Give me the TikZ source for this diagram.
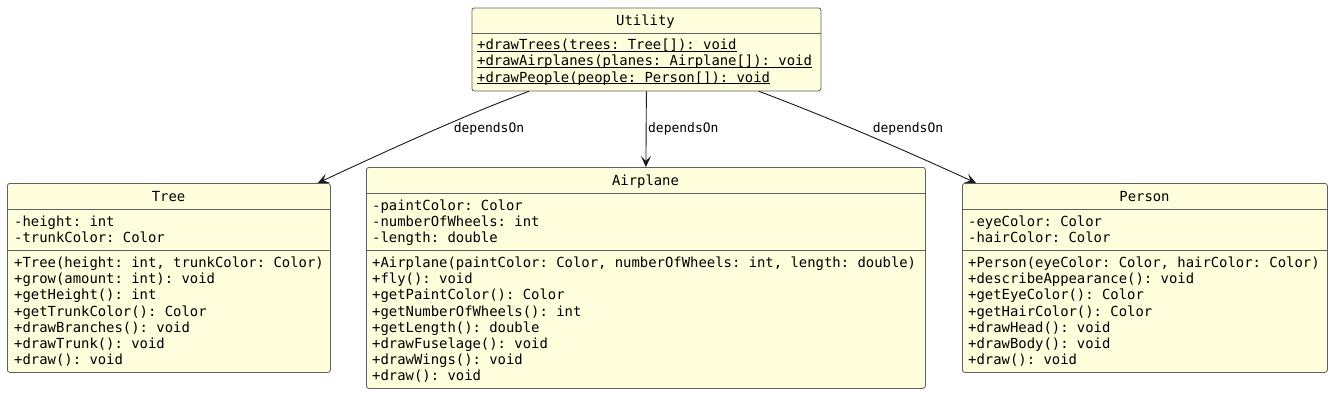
\documentclass[tikz,border=0pt]{standalone}
\usepackage{fontspec}
\setmonofont{DejaVu Sans Mono}
\usetikzlibrary{arrows.meta,calc}
\definecolor{classfill}{HTML}{FEFEDC}
\definecolor{classline}{HTML}{606060}
\tikzset{
  classbox/.style={draw=classline, fill=classfill, line width=0.8pt, rounded corners=2.5pt, inner sep=0pt, anchor=north west},
  sepline/.style={draw=classline, line width=0.8pt},
  mem/.style={font=\ttfamily\fontsize{13.9}{16}\selectfont, inner sep=0pt, anchor=base west},
  hdr/.style={font=\ttfamily\fontsize{13.9}{16}\selectfont, inner sep=0pt, anchor=base},
  lbl/.style={font=\ttfamily\fontsize{13}{15}\selectfont, inner sep=0pt},
  dep/.style={draw=black!90, line width=0.9pt, -{Stealth[length=11pt,width=10pt,inset=5pt]}},
  ul/.style={draw=black, line width=0.8pt},
}
\begin{document}
\begin{tikzpicture}[x=1pt,y=-1pt]
\fill[white] (0,0) rectangle (1341,402);
\useasboundingbox (0,0) rectangle (1341,402);

% Utility
\node[classbox, minimum width=349pt, minimum height=83pt] (util) at (471.5,7.5) {};
\node[hdr] (util-h) at (645.5,25.5) {Utility};
\draw[sepline] (util.west |- 0,33) -- (util.east |- 0,33);
\foreach \t [count=\i] in {{+drawTrees(trees: Tree[]): void},{+drawAirplanes(planes: Airplane[]): void},{+drawPeople(people: Person[]): void}}{
  \node[mem] (util-m\i) at (477,{49.7+16.2*(\i-1)}) {\t};
  \draw[ul] ([yshift=-1.6pt]util-m\i.base west) -- ([yshift=-1.6pt]util-m\i.base east);
}

% Tree
\node[classbox, minimum width=323pt, minimum height=189pt] (tree) at (7,183) {};
\node[hdr] (tree-h) at (168.5,201) {Tree};
\draw[sepline] (tree.west |- 0,209) -- (tree.east |- 0,209);
\draw[sepline] (tree.west |- 0,250) -- (tree.east |- 0,250);
\foreach \t [count=\i] in {{-height: int},{-trunkColor: Color}}
  \node[mem] (tree-a\i) at (14,{226.3+16.2*(\i-1)}) {\t};
\foreach \t [count=\i] in {{+Tree(height: int, trunkColor: Color)},{+grow(amount: int): void},{+getHeight(): int},{+getTrunkColor(): Color},{+drawBranches(): void},{+drawTrunk(): void},{+draw(): void}}
  \node[mem] (tree-m\i) at (14,{267.5+16.2*(\i-1)}) {\t};

% Airplane
\node[classbox, minimum width=559pt, minimum height=221pt] (air) at (366,167) {};
\node[hdr] (air-h) at (645.5,185) {Airplane};
\draw[sepline] (air.west |- 0,193) -- (air.east |- 0,193);
\draw[sepline] (air.west |- 0,250) -- (air.east |- 0,250);
\foreach \t [count=\i] in {{-paintColor: Color},{-numberOfWheels: int},{-length: double}}
  \node[mem] (air-a\i) at (372,{210.1+16.2*(\i-1)}) {\t};
\foreach \t [count=\i] in {{+Airplane(paintColor: Color, numberOfWheels: int, length: double)},{+fly(): void},{+getPaintColor(): Color},{+getNumberOfWheels(): int},{+getLength(): double},{+drawFuselage(): void},{+drawWings(): void},{+draw(): void}}
  \node[mem] (air-m\i) at (372,{267.5+16.2*(\i-1)}) {\t};

% Person
\node[classbox, minimum width=365pt, minimum height=189pt] (person) at (962,183) {};
\node[hdr] (person-h) at (1144.5,201) {Person};
\draw[sepline] (person.west |- 0,209) -- (person.east |- 0,209);
\draw[sepline] (person.west |- 0,250) -- (person.east |- 0,250);
\foreach \t [count=\i] in {{-eyeColor: Color},{-hairColor: Color}}
  \node[mem] (person-a\i) at (968,{226.3+16.2*(\i-1)}) {\t};
\foreach \t [count=\i] in {{+Person(eyeColor: Color, hairColor: Color)},{+describeAppearance(): void},{+getEyeColor(): Color},{+getHairColor(): Color},{+drawHead(): void},{+drawBody(): void},{+draw(): void}}
  \node[mem] (person-m\i) at (968,{267.5+16.2*(\i-1)}) {\t};

% connectors
\draw[dep] ($(util.south west)+(57.5,0)$) .. controls (470,113) and (395,147) .. ($(tree.north east)+(-13,0)$);
\node[lbl] (lbl-tree) at (489,129) {dependsOn};
\draw[dep] (util.south) -- node[lbl, anchor=west, xshift=1.5pt] (lbl-air) {dependsOn} (air.north);
\draw[dep] ($(util.south east)+(-62.5,0)$) .. controls (817,113) and (898,147) .. ($(person.north west)+(14,0)$);
\node[lbl] (lbl-person) at (908,128.5) {dependsOn};
\end{tikzpicture}
\end{document}
